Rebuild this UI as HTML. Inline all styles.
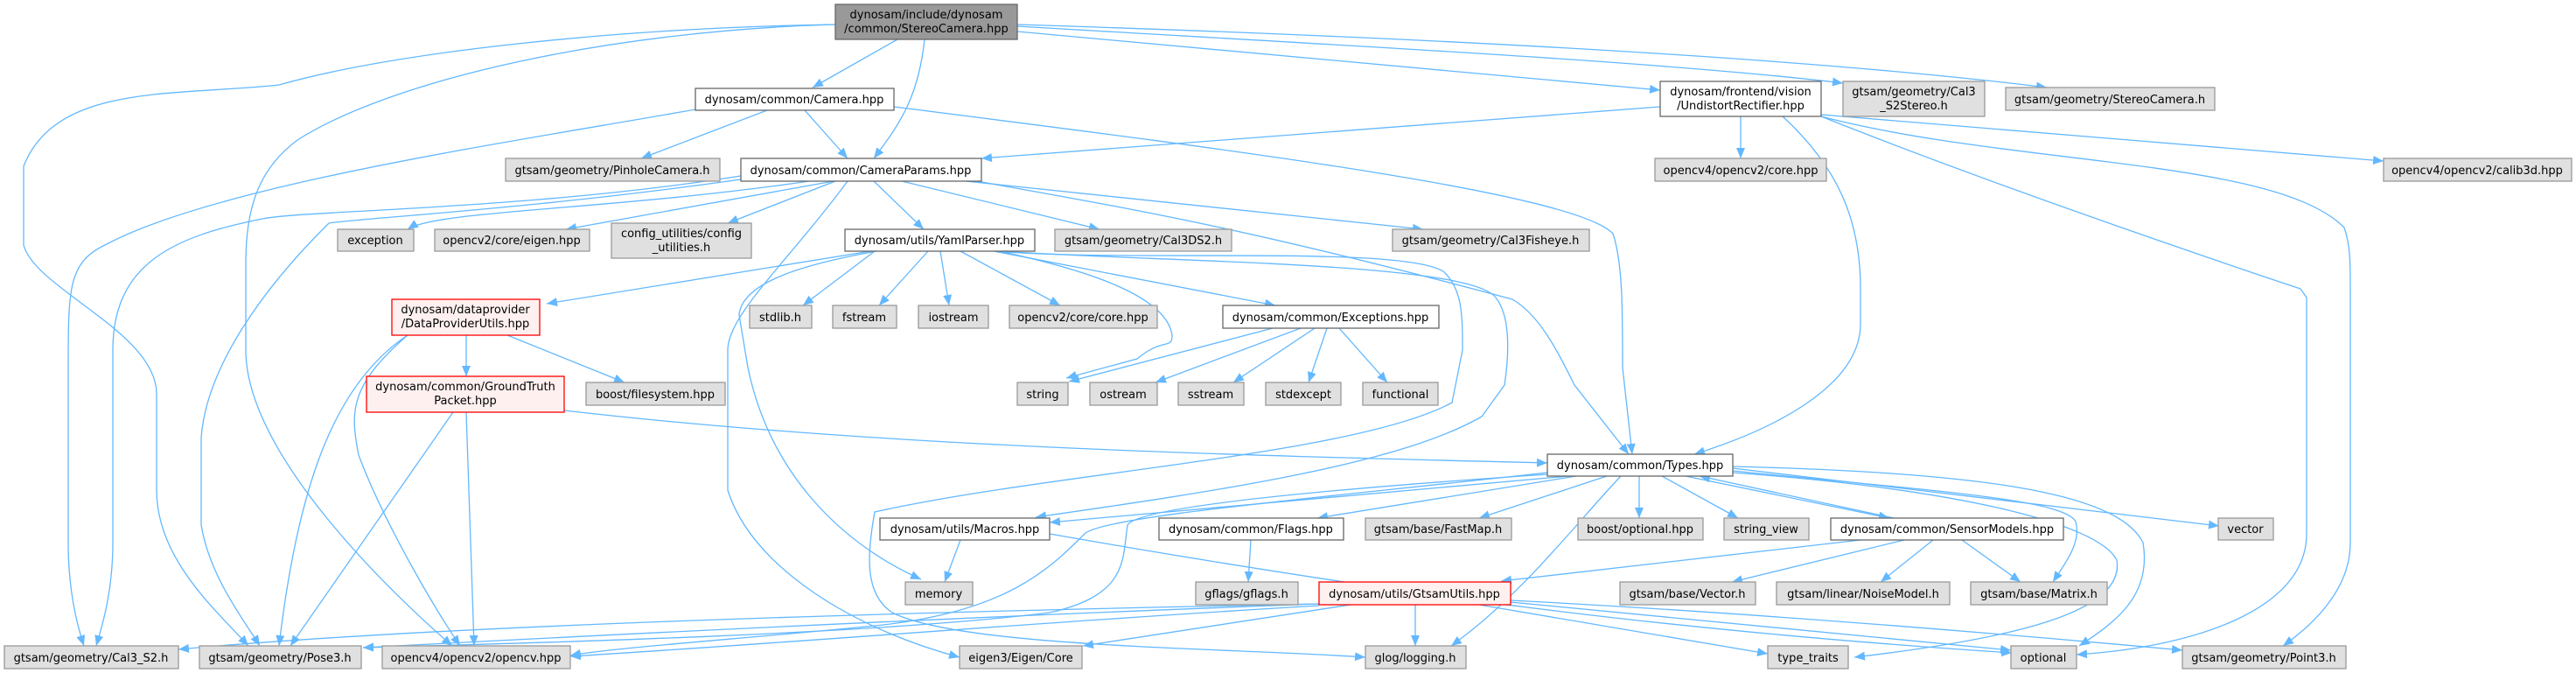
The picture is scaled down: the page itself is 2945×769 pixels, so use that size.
<!DOCTYPE html>
<html><head><meta charset="utf-8"><style>
html,body{margin:0;padding:0;background:#fff;}
svg{display:block;}
text{font-family:"DejaVu Sans","Liberation Sans",sans-serif;font-size:13px;fill:#000;text-anchor:middle;}
.g{fill:#e0e0e0;stroke:#999;stroke-width:1.3;}
.w{fill:#fff;stroke:#666;stroke-width:1.3;}
.r{fill:#fff0f0;stroke:#f00;stroke-width:1.3;}
.d{fill:#999;stroke:#666;stroke-width:1.3;}
.e path{fill:none;stroke:#63b8ff;stroke-width:1.3;}
</style></head><body>
<svg width="2945" height="769" viewBox="0 0 2945 769" xmlns="http://www.w3.org/2000/svg">
<defs><marker id="a" markerUnits="userSpaceOnUse" markerWidth="14" markerHeight="12" refX="12" refY="5" orient="auto"><path d="M0,0 L12,5 L0,10 Z" fill="#63b8ff"/></marker></defs>
<g class="e" marker-end="url(#a)">
<!-- StereoCamera -->
<path d="M1026,45 L929,100" marker-end="url(#a)"/>
<path d="M1057,45 C1050,110 1030,140 999,181" marker-end="url(#a)"/>
<path d="M1163,36 L1898,103" marker-end="url(#a)"/>
<path d="M1163,30 C1500,50 1900,70 2107,95" marker-end="url(#a)"/>
<path d="M1163,28 C1700,45 2100,70 2340,100" marker-end="url(#a)"/>
<path d="M955,28 C700,32 450,60 319,97 C200,110 64,95 27,190 L27,280 C40,330 179,380 179,450 L179,560 C179,640 250,700 284,738" marker-end="url(#a)"/>
<path d="M955,28 C700,35 450,90 340,160 C300,190 281,230 281,300 L281,400 C281,520 450,680 517,738" marker-end="url(#a)"/>
<!-- Camera -->
<path d="M795,125 C600,160 250,210 120,280 C78,300 78,330 78,420 L78,620 C78,680 90,720 96,738" marker-end="url(#a)"/>
<path d="M877,126 L733,181" marker-end="url(#a)"/>
<path d="M920,126 L969,181" marker-end="url(#a)"/>
<path d="M1022,122 C1400,170 1800,220 1844,267 C1855,300 1855,350 1855,420 L1866,519" marker-end="url(#a)"/>
<!-- Undistort -->
<path d="M1898,122 L1122,181" marker-end="url(#a)"/>
<path d="M1990,133 L1990,181" marker-end="url(#a)"/>
<path d="M2038,133 C2100,190 2127,250 2127,330 L2127,370 C2127,440 2030,490 1937,519" marker-end="url(#a)"/>
<path d="M2082,131 L2725,184" marker-end="url(#a)"/>
<path d="M2082,133 C2300,220 2600,320 2630,330 L2637,340 L2637,610 C2637,700 2500,740 2374,748" marker-end="url(#a)"/>
<path d="M2082,133 C2300,190 2600,180 2680,260 C2687,280 2687,300 2687,330 L2687,620 C2687,670 2650,710 2610,738" marker-end="url(#a)"/>
<!-- CameraParams -->
<path d="M847,201 C600,240 350,240 300,250 C200,270 129,300 129,400 L129,620 C129,680 115,720 110,738" marker-end="url(#a)"/>
<path d="M847,205 C600,240 400,250 376,255 C300,330 236,420 230,500 L230,600 C240,660 280,710 297,738" marker-end="url(#a)"/>
<path d="M969,207 C900,300 832,360 832,400 L832,560 C860,650 980,720 1097,751" marker-end="url(#a)"/>
<path d="M925,207 C700,240 500,240 466,262" marker-end="url(#a)"/>
<path d="M953,207 L647,262" marker-end="url(#a)"/>
<path d="M955,207 L832,255" marker-end="url(#a)"/>
<path d="M999,207 L1056,262" marker-end="url(#a)"/>
<path d="M1031,207 L1257,262" marker-end="url(#a)"/>
<path d="M1104,207 L1627,262" marker-end="url(#a)"/>
<path d="M1117,207 C1300,240 1423,260 1729,342 C1760,360 1780,400 1800,440 L1862,519" marker-end="url(#a)"/>
<!-- YamlParser -->
<path d="M995,287 L625,347" marker-end="url(#a)"/>
<path d="M1000,287 L918,349" marker-end="url(#a)"/>
<path d="M1061,287 L1005,349" marker-end="url(#a)"/>
<path d="M1075,287 L1085,349" marker-end="url(#a)"/>
<path d="M1098,287 L1212,349" marker-end="url(#a)"/>
<path d="M1136,287 L1458,349" marker-end="url(#a)"/>
<path d="M1142,287 C1250,310 1334,340 1340,383 C1340,400 1330,385 1300,410 L1219,432" marker-end="url(#a)"/>
<path d="M1002,287 C930,300 848,320 845,360 L855,420 C880,540 960,620 1053,662" marker-end="url(#a)"/>
<path d="M1136,287 C1300,300 1600,280 1650,310 C1672,330 1672,360 1672,400 L1660,460 C1550,520 1200,540 1000,585 C990,640 990,680 1020,700 C1100,740 1400,740 1561,751" marker-end="url(#a)"/>
<path d="M1140,287 C1350,300 1680,300 1710,340 C1726,360 1726,400 1720,440 L1694,476 C1600,530 1400,560 1184,591" marker-end="url(#a)"/>
<!-- DataProviderUtils -->
<path d="M533,383 L533,430" marker-end="url(#a)"/>
<path d="M580,383 L714,437" marker-end="url(#a)"/>
<path d="M466,383 C380,440 340,560 319,738" marker-end="url(#a)"/>
<path d="M466,383 C400,440 400,470 410,520 C440,600 500,700 526,738" marker-end="url(#a)"/>
<!-- GroundTruth -->
<path d="M518,471 L332,738" marker-end="url(#a)"/>
<path d="M533,471 L542,738" marker-end="url(#a)"/>
<path d="M645,469 C1000,510 1400,520 1769,529" marker-end="url(#a)"/>
<!-- Exceptions -->
<path d="M1455,375 L1222,436" marker-end="url(#a)"/>
<path d="M1487,375 L1321,437" marker-end="url(#a)"/>
<path d="M1503,375 L1410,437" marker-end="url(#a)"/>
<path d="M1517,375 L1496,437" marker-end="url(#a)"/>
<path d="M1531,375 L1586,437" marker-end="url(#a)"/>
<!-- Types -->
<path d="M1793,544 L1200,597" marker-end="url(#a)"/>
<path d="M1802,544 L1506,592" marker-end="url(#a)"/>
<path d="M1837,544 L1691,592" marker-end="url(#a)"/>
<path d="M1874,544 L1874,592" marker-end="url(#a)"/>
<path d="M1900,544 L1987,592" marker-end="url(#a)"/>
<path d="M1927,544 L2160,592" marker-end="url(#a)"/>
<path d="M2165,592 L1943,544" marker-end="url(#a)"/>
<path d="M1981,535 L2537,601" marker-end="url(#a)"/>
<path d="M1981,538 C2200,560 2360,570 2373,596 C2380,620 2360,645 2347,665" marker-end="url(#a)"/>
<path d="M1981,533 C2250,540 2420,560 2450,620 C2460,680 2420,710 2377,738" marker-end="url(#a)"/>
<path d="M1981,540 C2250,560 2400,600 2420,640 C2430,700 2300,730 2120,751" marker-end="url(#a)"/>
<path d="M1853,544 C1800,600 1740,680 1659,738" marker-end="url(#a)"/>
<path d="M1769,542 C1500,560 1300,580 1289,600 C1283,640 1290,680 1200,700 C1000,725 600,735 415,740" marker-end="url(#a)"/>
<path d="M1769,540 C1500,570 1260,590 1240,610 C1200,650 1150,700 1000,715 C850,730 700,740 652,749" marker-end="url(#a)"/>
<path d="M1200,610 C1600,680 1900,720 2300,746" marker-end="url(#a)"/>
<path d="M1098,617 L1080,665" marker-end="url(#a)"/>
<path d="M1430,617 L1427,665" marker-end="url(#a)"/>
<!-- SensorModels -->
<path d="M2127,617 L1716,664" marker-end="url(#a)"/>
<path d="M2177,617 L1980,665" marker-end="url(#a)"/>
<path d="M2210,617 L2150,665" marker-end="url(#a)"/>
<path d="M2243,617 L2310,665" marker-end="url(#a)"/>
<!-- GtsamUtils -->
<path d="M1618,691 L1618,738" marker-end="url(#a)"/>
<path d="M1544,691 L1238,738" marker-end="url(#a)"/>
<path d="M1508,690 C1000,700 500,715 204,742" marker-end="url(#a)"/>
<path d="M1508,690 C1100,705 700,725 415,740" marker-end="url(#a)"/>
<path d="M1508,692 C1200,710 900,735 652,750" marker-end="url(#a)"/>
<path d="M1727,688 C1950,710 2150,730 2299,743" marker-end="url(#a)"/>
<path d="M1691,691 L2021,747" marker-end="url(#a)"/>
<path d="M1727,686 C2000,700 2300,725 2495,743" marker-end="url(#a)"/>
</g>

<!-- nodes -->
<rect class="d" x="955" y="5" width="208" height="40"/><text x="1059" y="21">dynosam/include/dynosam</text><text x="1059" y="37">/common/StereoCamera.hpp</text>
<rect class="w" x="795" y="101" width="227" height="25"/><text x="908" y="118">dynosam/common/Camera.hpp</text>
<rect class="w" x="1898" y="93" width="184" height="40"/><text x="1990" y="109">dynosam/frontend/vision</text><text x="1990" y="125">/UndistortRectifier.hpp</text>
<rect class="g" x="2107" y="93" width="162" height="40"/><text x="2188" y="109">gtsam/geometry/Cal3</text><text x="2188" y="125">_S2Stereo.h</text>
<rect class="g" x="2293" y="100" width="239" height="26"/><text x="2412" y="118">gtsam/geometry/StereoCamera.h</text>
<rect class="g" x="578" y="181" width="245" height="26"/><text x="700" y="199">gtsam/geometry/PinholeCamera.h</text>
<rect class="w" x="847" y="181" width="275" height="26"/><text x="984" y="199">dynosam/common/CameraParams.hpp</text>
<rect class="g" x="1892" y="181" width="196" height="26"/><text x="1990" y="199">opencv4/opencv2/core.hpp</text>
<rect class="g" x="2725" y="181" width="215" height="26"/><text x="2832" y="199">opencv4/opencv2/calib3d.hpp</text>
<rect class="g" x="386" y="262" width="87" height="25"/><text x="429" y="279">exception</text>
<rect class="g" x="497" y="262" width="177" height="25"/><text x="585" y="279">opencv2/core/eigen.hpp</text>
<rect class="g" x="699" y="255" width="160" height="40"/><text x="779" y="271">config_utilities/config</text><text x="779" y="287">_utilities.h</text>
<rect class="w" x="966" y="262" width="217" height="25"/><text x="1074" y="279">dynosam/utils/YamlParser.hpp</text>
<rect class="g" x="1206" y="262" width="202" height="25"/><text x="1307" y="279">gtsam/geometry/Cal3DS2.h</text>
<rect class="g" x="1592" y="262" width="225" height="25"/><text x="1704" y="279">gtsam/geometry/Cal3Fisheye.h</text>
<rect class="r" x="448" y="342" width="169" height="41"/><text x="532" y="358">dynosam/dataprovider</text><text x="532" y="374">/DataProviderUtils.hpp</text>
<rect class="g" x="857" y="349" width="71" height="26"/><text x="892" y="367">stdlib.h</text>
<rect class="g" x="952" y="349" width="73" height="26"/><text x="988" y="367">fstream</text>
<rect class="g" x="1050" y="349" width="80" height="26"/><text x="1090" y="367">iostream</text>
<rect class="g" x="1154" y="349" width="169" height="26"/><text x="1238" y="367">opencv2/core/core.hpp</text>
<rect class="w" x="1398" y="349" width="247" height="26"/><text x="1521" y="367">dynosam/common/Exceptions.hpp</text>
<rect class="r" x="419" y="430" width="226" height="41"/><text x="532" y="446">dynosam/common/GroundTruth</text><text x="532" y="462">Packet.hpp</text>
<rect class="g" x="670" y="437" width="159" height="26"/><text x="749" y="455">boost/filesystem.hpp</text>
<rect class="g" x="1163" y="437" width="58" height="26"/><text x="1192" y="455">string</text>
<rect class="g" x="1246" y="437" width="77" height="26"/><text x="1284" y="455">ostream</text>
<rect class="g" x="1347" y="437" width="75" height="26"/><text x="1384" y="455">sstream</text>
<rect class="g" x="1447" y="437" width="86" height="26"/><text x="1490" y="455">stdexcept</text>
<rect class="g" x="1558" y="437" width="86" height="26"/><text x="1601" y="455">functional</text>
<rect class="w" x="1769" y="519" width="212" height="25"/><text x="1875" y="536">dynosam/common/Types.hpp</text>
<rect class="w" x="1006" y="592" width="194" height="25"/><text x="1103" y="609">dynosam/utils/Macros.hpp</text>
<rect class="w" x="1325" y="592" width="211" height="25"/><text x="1430" y="609">dynosam/common/Flags.hpp</text>
<rect class="g" x="1561" y="592" width="167" height="25"/><text x="1644" y="609">gtsam/base/FastMap.h</text>
<rect class="g" x="1804" y="592" width="143" height="25"/><text x="1875" y="609">boost/optional.hpp</text>
<rect class="g" x="1971" y="592" width="97" height="25"/><text x="2019" y="609">string_view</text>
<rect class="w" x="2093" y="592" width="266" height="25"/><text x="2226" y="609">dynosam/common/SensorModels.hpp</text>
<rect class="g" x="2536" y="592" width="63" height="25"/><text x="2567" y="609">vector</text>
<rect class="g" x="1035" y="665" width="77" height="26"/><text x="1073" y="683">memory</text>
<rect class="g" x="1367" y="665" width="117" height="26"/><text x="1425" y="683">gflags/gflags.h</text>
<rect class="r" x="1508" y="665" width="219" height="26"/><text x="1617" y="683">dynosam/utils/GtsamUtils.hpp</text>
<rect class="g" x="1852" y="665" width="155" height="26"/><text x="1929" y="683">gtsam/base/Vector.h</text>
<rect class="g" x="2031" y="665" width="198" height="26"/><text x="2130" y="683">gtsam/linear/NoiseModel.h</text>
<rect class="g" x="2253" y="665" width="156" height="26"/><text x="2331" y="683">gtsam/base/Matrix.h</text>
<rect class="g" x="5" y="738" width="199" height="26"/><text x="104" y="756">gtsam/geometry/Cal3_S2.h</text>
<rect class="g" x="228" y="738" width="185" height="26"/><text x="320" y="756">gtsam/geometry/Pose3.h</text>
<rect class="g" x="437" y="738" width="215" height="26"/><text x="544" y="756">opencv4/opencv2/opencv.hpp</text>
<rect class="g" x="1097" y="738" width="140" height="26"/><text x="1167" y="756">eigen3/Eigen/Core</text>
<rect class="g" x="1561" y="738" width="115" height="26"/><text x="1618" y="756">glog/logging.h</text>
<rect class="g" x="2021" y="738" width="92" height="26"/><text x="2067" y="756">type_traits</text>
<rect class="g" x="2299" y="738" width="75" height="26"/><text x="2336" y="756">optional</text>
<rect class="g" x="2495" y="738" width="187" height="26"/><text x="2588" y="756">gtsam/geometry/Point3.h</text>
</svg>
</body></html>
